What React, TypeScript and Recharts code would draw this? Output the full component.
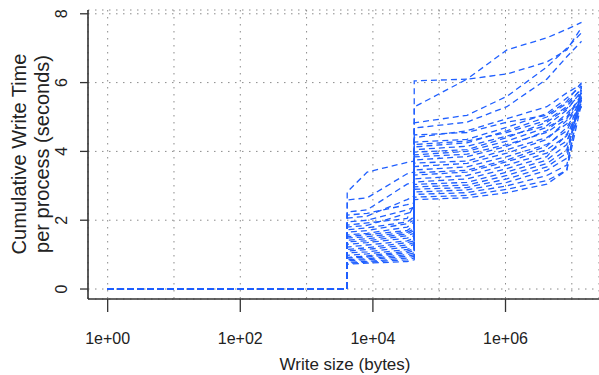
import React from 'react'
import { CartesianGrid, Line, LineChart, XAxis, YAxis } from 'recharts'

// write sizes (bytes) at which each process's cumulative time is sampled
const writeSizes = [1, 4096, 4096, 8192, 32768, 42000, 42000, 262144, 1048576, 4194304, 8388608, 14000000]

// cumulative write time (s) per process, one array per process
const procs: number[][] = [
  [0, 0, 2.82, 3.4, 3.68, 3.72, 6.05, 6.1, 6.95, 7.3, 7.55, 7.75],
  [0, 0, 2.59, 2.65, 3.35, 3.4, 5.29, 6.1, 6.25, 6.6, 6.95, 7.6],
  [0, 0, 2.24, 2.3, 3.05, 3.1, 4.83, 5.05, 5.6, 6.45, 7.0, 7.45],
  [0, 0, 2.15, 2.2, 2.45, 2.5, 4.68, 4.85, 5.3, 6.1, 6.75, 7.2],
  [0, 0, 2.06, 2.12, 2.6, 2.7, 4.48, 4.55, 4.85, 5.05, 5.45, 6.0],
  [0, 0, 1.95, 2.0, 2.3, 2.38, 4.4, 4.6, 4.95, 5.3, 5.7, 5.95],
  [0, 0, 1.86, 1.92, 2.05, 2.45, 4.27, 4.35, 4.7, 5.1, 5.55, 5.9],
  [0, 0, 1.8, 1.85, 2.2, 2.25, 4.2, 4.3, 4.55, 4.9, 5.3, 5.85],
  [0, 0, 1.72, 1.78, 1.95, 2.1, 4.13, 4.25, 4.6, 5.0, 5.4, 5.8],
  [0, 0, 1.65, 1.7, 1.9, 2.0, 4.05, 4.15, 4.45, 4.75, 5.2, 5.75],
  [0, 0, 1.57, 1.62, 1.8, 1.95, 3.98, 4.05, 4.4, 4.85, 5.25, 5.7],
  [0, 0, 1.52, 1.58, 1.7, 1.85, 3.9, 4.0, 4.3, 4.7, 5.0, 5.65],
  [0, 0, 1.48, 1.52, 1.65, 1.75, 3.84, 3.92, 4.2, 4.55, 4.95, 5.6],
  [0, 0, 1.42, 1.46, 1.6, 1.7, 3.75, 3.85, 4.15, 4.6, 5.1, 5.55],
  [0, 0, 1.37, 1.4, 1.55, 1.62, 3.66, 3.72, 4.05, 4.4, 4.8, 5.5],
  [0, 0, 1.3, 1.35, 1.48, 1.55, 3.56, 3.65, 3.95, 4.35, 4.9, 5.5],
  [0, 0, 1.22, 1.28, 1.4, 1.48, 3.46, 3.55, 3.85, 4.2, 4.6, 5.45],
  [0, 0, 1.15, 1.2, 1.35, 1.4, 3.38, 3.45, 3.75, 4.15, 4.7, 5.4],
  [0, 0, 1.1, 1.15, 1.28, 1.35, 3.31, 3.4, 3.7, 4.05, 4.45, 5.4],
  [0, 0, 1.05, 1.08, 1.22, 1.3, 3.2, 3.3, 3.6, 3.95, 4.3, 5.35],
  [0, 0, 0.98, 1.02, 1.15, 1.22, 3.11, 3.2, 3.5, 3.85, 4.5, 5.3],
  [0, 0, 0.92, 0.96, 1.1, 1.18, 3.04, 3.1, 3.4, 3.75, 4.2, 5.6],
  [0, 0, 0.9, 0.93, 1.05, 1.12, 2.97, 3.02, 3.3, 3.65, 4.05, 5.5],
  [0, 0, 0.85, 0.88, 1.0, 1.05, 2.9, 2.95, 3.2, 3.55, 3.95, 5.7],
  [0, 0, 0.82, 0.85, 0.95, 1.0, 2.82, 2.88, 3.1, 3.45, 3.8, 5.8],
  [0, 0, 0.78, 0.8, 0.9, 0.95, 2.75, 2.8, 3.0, 3.3, 3.6, 5.55],
  [0, 0, 0.75, 0.78, 0.85, 0.9, 2.67, 2.72, 2.9, 3.15, 3.45, 5.9],
  [0, 0, 0.72, 0.75, 0.8, 0.85, 2.6, 2.65, 2.8, 3.05, 3.45, 5.4],
]

const xTicks = [1, 10, 100, 1e3, 1e4, 1e5, 1e6, 1e7]
const yTicks = [0, 2, 4, 6, 8]
const xDomain = [0.505, 2.57e7]
const yDomain = [-0.29, 8.11]

const BLUE = '#1f5fff'
const INK = '#333333'
const GRID = '#8a8a8a'
const FONT = '"Liberation Sans", Arial, sans-serif'

function XTick({ x, payload }: any) {
  const e = Math.round(Math.log10(payload.value))
  if (e % 2 !== 0) return null
  return (
    <g>
      <line x1={x} x2={x} y1={299} y2={312} stroke={INK} strokeWidth={1.3} />
      <text x={x} y={344} textAnchor="middle" fontSize={16} fill="#222" fontFamily={FONT}>
        {`1e+${String(e).padStart(2, '0')}`}
      </text>
    </g>
  )
}

function YTick({ y, payload }: any) {
  return (
    <g>
      <line x1={80} x2={88} y1={y} y2={y} stroke={INK} strokeWidth={1.3} />
      <text
        transform={`translate(61 ${y}) rotate(-90)`}
        textAnchor="middle"
        dy="0.36em"
        fontSize={16}
        fill="#222"
        fontFamily={FONT}
      >
        {payload.value}
      </text>
    </g>
  )
}

export default function App() {
  return (
    <div style={{ position: 'absolute', left: 0, top: 0, width: 599, height: 375, background: '#fff' }}>
      <LineChart width={599} height={375} margin={{ top: 10, right: 0, bottom: 0, left: 0 }}>
        <CartesianGrid stroke={GRID} strokeDasharray="1.5 5.5" />
        <XAxis
          dataKey="size"
          type="number"
          scale="log"
          domain={xDomain}
          allowDataOverflow
          ticks={xTicks}
          interval={0}
          height={76}
          tick={<XTick />}
          tickLine={false}
          axisLine={{ stroke: INK, strokeWidth: 1.6 }}
        />
        <XAxis
          xAxisId="top"
          orientation="top"
          type="number"
          scale="log"
          domain={xDomain}
          allowDataOverflow
          height={0}
          tick={false}
          tickLine={false}
          axisLine={{ stroke: INK, strokeWidth: 1.6 }}
        />
        <YAxis
          type="number"
          domain={yDomain}
          allowDataOverflow
          ticks={yTicks}
          interval={0}
          width={88}
          tick={<YTick />}
          tickLine={false}
          axisLine={{ stroke: INK, strokeWidth: 1.6 }}
        />
        {procs.map((p, i) => (
          <Line
            key={i}
            data={writeSizes.map((s, j) => ({ size: s, time: p[j] }))}
            dataKey="time"
            stroke={BLUE}
            strokeWidth={1.3}
            strokeDasharray="6 4"
            dot={false}
            activeDot={false}
            isAnimationActive={false}
          />
        ))}
      </LineChart>
      <svg width={599} height={375} style={{ position: 'absolute', left: 0, top: 0, pointerEvents: 'none' }}>
        <text x={345} y={370} textAnchor="middle" fontSize={17} fill="#222" fontFamily={FONT}>
          Write size (bytes)
        </text>
        <text transform="translate(19 154) rotate(-90)" textAnchor="middle" dy="0.36em" fontSize={20} fill="#222" fontFamily={FONT}>
          Cumulative Write Time
        </text>
        <text transform="translate(42 154) rotate(-90)" textAnchor="middle" dy="0.36em" fontSize={20} fill="#222" fontFamily={FONT}>
          per process (seconds)
        </text>
      </svg>
    </div>
  )
}
